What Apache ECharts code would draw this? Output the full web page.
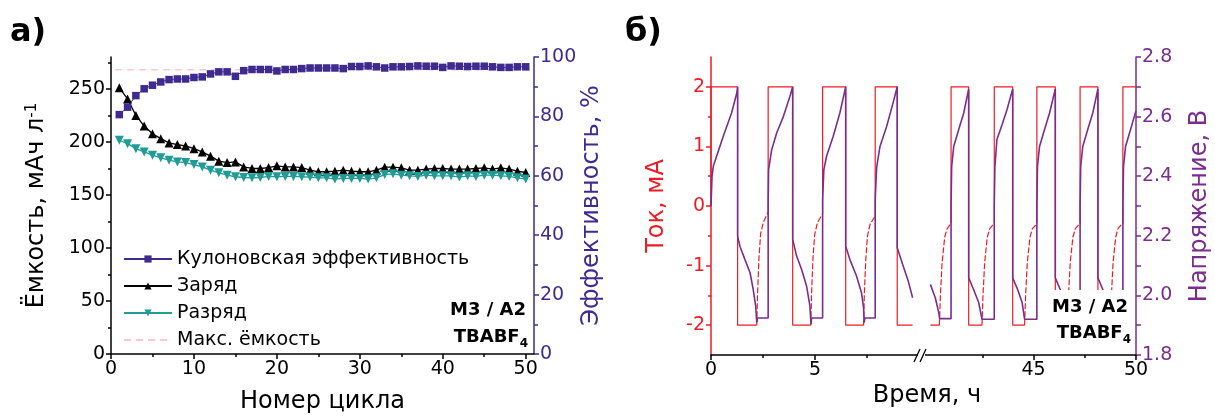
<!DOCTYPE html>
<html>
<head>
<meta charset="utf-8">
<script src="https://cdn.jsdelivr.net/npm/echarts@6/dist/echarts.min.js"></script>
<style>
html,body{margin:0;padding:0;background:#fff;}
#main{width:1215px;height:419px;}
</style>
</head>
<body>
<div id="main"></div>
<script>
// ---- panel a) : cycling ----
var cycles = [1,2,3,4,5,6,7,8,9,10,11,12,13,14,15,16,17,18,19,20,21,22,23,24,25,
              26,27,28,29,30,31,32,33,34,35,36,37,38,39,40,41,42,43,44,45,46,47,48,49,50];
var efficiency = [80.6,83.1,87.0,89.3,90.5,91.6,92.4,92.6,92.6,93.1,93.3,94.3,95.0,95.0,93.5,95.4,95.8,95.8,95.8,95.3,95.8,95.8,96.1,96.3,96.3,
                  96.3,96.3,96.1,96.8,96.8,97.0,96.7,96.3,96.7,96.7,96.8,97.0,96.9,96.9,96.5,97.0,96.9,96.8,96.9,96.9,96.7,96.5,96.5,96.7,96.7];
var charge = [250.9,240.5,224.9,214.9,207.7,203.0,199.0,197.4,196.1,193.6,190.5,186.5,181.8,180.5,181.1,176.4,174.9,174.9,175.8,177.4,176.4,176.4,175.8,173.3,171.8,
              171.8,172.4,173.3,172.4,171.8,171.8,173.3,176.1,176.1,175.5,173.3,173.3,174.3,174.9,174.9,174.3,174.3,174.3,174.9,175.5,174.3,175.5,174.3,172.4,171.1];
var discharge = [201.5,198.3,193.6,190.5,187.4,184.9,182.7,181.1,180.5,178.6,176.4,173.3,170.8,168.6,167.1,166.4,166.1,166.4,167.4,167.1,167.4,167.4,167.1,166.8,166.1,
                 166.1,164.9,165.5,165.5,165.5,164.9,166.1,169.2,169.9,168.6,168.0,167.4,168.6,168.0,168.0,168.0,166.8,168.0,167.4,168.6,168.6,168.0,167.4,166.1,164.9];
var maxCapX = [0.5, 51];
var maxCap = [268, 268];
var capTicks = [0,50,100,150,200,250];
var cycleTicks = [0,10,20,30,40,50];

// ---- panel б) : time, left piece (0 .. 10.2 h) ----
var tCurA = [0,0,1.28,1.28,2.20,null,2.75,2.75,3.93,3.93,4.80,null,5.37,5.37,6.48,6.48,7.34,null,7.90,7.90,8.96,8.96,9.70];
var iCurA = [0,2,2,-2,-2,null,-0.10,2,2,-2,-2,null,-0.13,2,2,-2,-2,null,-0.17,2,2,-2,-2];
var tHoldA = [2.20,2.24,2.31,2.39,2.52,2.75,null,4.80,4.84,4.91,4.99,5.12,5.37,null,7.34,7.38,7.45,7.53,7.66,7.90];
var iHoldA = [-2,-1.47,-0.85,-0.46,-0.27,-0.10,null,-2,-1.45,-0.85,-0.48,-0.28,-0.13,null,-2,-1.45,-0.88,-0.50,-0.30,-0.17];
var tVoltA = [0.0,0.05,0.11,0.27,0.59,0.99,1.24,1.28,
              1.28,1.39,1.63,1.88,2.03,2.15,2.20,2.22,2.24,2.75,
              2.75,2.77,2.92,3.16,3.48,3.80,3.93,
              3.93,4.12,4.36,4.60,4.76,4.81,4.84,5.37,
              5.37,5.43,5.56,5.88,6.20,6.48,
              6.48,6.68,7.00,7.24,7.34,7.37,7.40,7.90,
              7.90,7.97,8.13,8.45,8.76,8.96,
              8.96,9.25,9.49,9.70];
var vVoltA = [2.30,2.40,2.433,2.467,2.534,2.612,2.679,2.70,
              2.199,2.165,2.121,2.076,2.02,1.964,1.909,1.903,1.924,1.924,
              2.30,2.422,2.489,2.545,2.60,2.668,2.70,
              2.188,2.132,2.087,2.031,1.964,1.903,1.924,1.924,
              2.322,2.422,2.467,2.534,2.612,2.70,
              2.165,2.121,2.065,2.009,1.959,1.909,1.924,1.924,
              2.32,2.43,2.50,2.567,2.646,2.70,
              2.16,2.098,2.048,1.992];

// ---- panel б) : time, right piece (39.6 .. 50 h) ----
var tCurB = [39.96,40.40,null,40.97,40.97,41.83,41.83,42.48,null,43.08,43.08,43.98,43.98,44.56,null,
             45.16,45.16,46.06,46.06,46.66,null,47.27,47.27,48.14,48.14,48.75,null,49.36,49.36,50];
var iCurB = [-2,-2,null,-0.29,2,2,-2,-2,null,-0.29,2,2,-2,-2,null,
             -0.29,2,2,-2,-2,null,-0.29,2,2,-2,-2,null,-0.29,2,2];
var tHoldB = [40.40,40.45,40.53,40.66,40.78,40.97,null,42.48,42.53,42.61,42.74,42.86,43.08,null,
              44.56,44.61,44.69,44.82,44.94,45.16,null,46.66,46.71,46.79,46.92,47.04,47.27,null,
              48.75,48.80,48.88,49.01,49.13,49.36];
var iHoldB = [-2,-1.5,-0.96,-0.52,-0.38,-0.29,null,-2,-1.5,-0.95,-0.52,-0.38,-0.29,null,
              -2,-1.5,-0.96,-0.53,-0.38,-0.30,null,-2,-1.45,-0.94,-0.52,-0.38,-0.29,null,
              -2,-1.5,-0.95,-0.52,-0.37,-0.29];
var tVoltB = [39.96,40.20,40.37,40.41,40.97,
              40.97,41.00,41.10,41.34,41.59,41.83,
              41.83,42.07,42.32,42.48,43.08,
              43.08,43.11,43.21,43.46,43.70,43.98,
              43.98,44.22,44.44,44.56,45.16,
              45.16,45.19,45.29,45.53,45.78,46.06,
              46.06,46.30,46.52,46.66,47.27,
              47.27,47.30,47.40,47.64,47.89,48.14,
              48.14,48.38,48.60,48.75,49.36,
              49.36,49.39,49.49,49.73,50.0];
var vVoltB = [2.037,1.992,1.942,1.922,1.922,
              2.30,2.433,2.50,2.556,2.612,2.693,
              2.059,2.02,1.976,1.92,1.92,
              2.30,2.433,2.523,2.573,2.623,2.693,
              2.059,2.02,1.976,1.92,1.92,
              2.30,2.433,2.50,2.556,2.612,2.693,
              2.059,2.02,1.976,1.92,1.92,
              2.30,2.433,2.50,2.556,2.612,2.693,
              2.059,2.02,1.976,1.92,1.92,
              2.30,2.433,2.50,2.556,2.62];

var FONT = 'DejaVu Sans';
var C_EFF = '#3f2b8f';
var C_TEAL = '#1f9c96';
var C_PINK = '#f6c8d8';
var C_RED = '#ec1c24';
var C_VOLT = '#7b2d8e';

function zip(xs, ys){
	return xs.map(function(x, i){ return [x, ys[i]]; });
}

function axisBase(color){
	return {
		axisLine: {show: true, onZero: false, lineStyle: {color: color, width: 1.5}},
		axisTick: {show: true, inside: false, length: 5, lineStyle: {color: color, width: 1.5}},
		minorTick: {show: false},
		axisLabel: {color: color, fontFamily: FONT, fontSize: 19, margin: 6},
		splitLine: {show: false},
		nameTextStyle: {fontFamily: FONT, fontSize: 24, color: color}
	};
}

function mk(base, extra){
	var o = JSON.parse(JSON.stringify(base));
	for (var k in extra) {
		if (extra[k] && typeof extra[k] === 'object' && !Array.isArray(extra[k]) && o[k]) {
			for (var j in extra[k]) o[k][j] = extra[k][j];
		} else {
			o[k] = extra[k];
		}
	}
	return o;
}

var myChart = echarts.init(document.getElementById('main'));

var black = axisBase('#000');

var option = {
	animation: false,
	textStyle: {fontFamily: FONT},
	grid: [
		{left: 111, top: 57, width: 423, height: 298},
		{left: 711, top: 57, width: 212, height: 298},
		{left: 923, top: 57, width: 213, height: 298}
	],
	legend: {
		orient: 'vertical',
		left: 118, top: 244,
		itemWidth: 48, itemHeight: 9, itemGap: 7,
		textStyle: {fontFamily: FONT, fontSize: 19, color: '#000', lineHeight: 20},
		data: ['Кулоновская эффективность', 'Заряд', 'Разряд',
			{name: 'Макс. ёмкость', itemStyle: {opacity: 0}}]
	},
	xAxis: [
		mk(black, {type: 'value', gridIndex: 0, position: 'bottom', min: 0, max: 51, interval: 10,
			axisTick: {customValues: cycleTicks},
			axisLabel: {customValues: cycleTicks},
			minorTick: {show: true, splitNumber: 2, length: 3, lineStyle: {color: '#000', width: 1.5}},
			name: 'Номер цикла', nameLocation: 'middle', nameGap: 36}),
		mk(black, {type: 'value', gridIndex: 1, position: 'bottom', min: 0, max: 10.2,
			axisTick: {customValues: [0, 5]},
			axisLabel: {customValues: [0, 5]}}),
		mk(black, {type: 'value', gridIndex: 2, position: 'bottom', min: 39.6, max: 50,
			axisTick: {customValues: [45, 50]},
			axisLabel: {customValues: [45, 50]}}),
		mk(black, {type: 'value', gridIndex: 1, position: 'bottom', min: 0, max: 10.2,
			axisLine: {show: false},
			axisTick: {customValues: [2.5, 7.5], length: 3},
			axisLabel: {show: false}}),
		mk(black, {type: 'value', gridIndex: 2, position: 'bottom', min: 39.6, max: 50,
			axisLine: {show: false},
			axisTick: {customValues: [42.5, 47.5], length: 3},
			axisLabel: {show: false}})
	],
	yAxis: [
		mk(black, {type: 'value', gridIndex: 0, position: 'left', min: 0, max: 280, interval: 50,
			axisTick: {customValues: capTicks},
			axisLabel: {customValues: capTicks},
			minorTick: {show: true, splitNumber: 2, length: 3, lineStyle: {color: '#000', width: 1.5}},
			name: 'Ёмкость, мАч л{sup|-1}', nameLocation: 'middle', nameGap: 62,
			nameTextStyle: {fontFamily: FONT, fontSize: 24, color: '#000',
				rich: {sup: {fontFamily: FONT, fontSize: 15, verticalAlign: 'top', lineHeight: 16}}}}),
		mk(axisBase(C_EFF), {type: 'value', gridIndex: 0, position: 'right', min: 0, max: 100, interval: 20,
			minorTick: {show: true, splitNumber: 2, length: 4, lineStyle: {color: C_EFF, width: 1.5}},
			name: 'Эффективность, %', nameLocation: 'middle', nameGap: 46}),
		mk(axisBase(C_RED), {type: 'value', gridIndex: 1, position: 'left', min: -2.5, max: 2.5,
			axisTick: {customValues: [-2, -1, 0, 1, 2]},
			axisLabel: {customValues: [-2, -1, 0, 1, 2]},
			name: 'Ток, мА', nameLocation: 'middle', nameGap: 42}),
		{type: 'value', gridIndex: 1, position: 'right', min: 1.8, max: 2.8, show: false},
		{type: 'value', gridIndex: 2, position: 'left', min: -2.5, max: 2.5, show: false},
		mk(axisBase(C_VOLT), {type: 'value', gridIndex: 2, position: 'right', min: 1.8, max: 2.8, interval: 0.2,
			minorTick: {show: true, splitNumber: 2, length: 5, lineStyle: {color: C_VOLT, width: 1.5}},
			axisLabel: {formatter: function(v){ return v.toFixed(1); }},
			name: 'Напряжение, В', nameLocation: 'middle', nameGap: 52}),
		mk(axisBase(C_RED), {type: 'value', gridIndex: 1, position: 'left', min: -2.5, max: 2.5,
			axisLine: {show: false},
			axisTick: {customValues: [-1.5, -0.5, 0.5, 1.5], length: 3},
			axisLabel: {show: false}})
	],
	series: [
		{name: 'Макс. ёмкость', type: 'line', xAxisIndex: 0, yAxisIndex: 0,
			data: zip(maxCapX, maxCap), symbol: 'none',
			lineStyle: {color: C_PINK, width: 1.5, type: [7, 5]}, itemStyle: {color: C_PINK}},
		{name: 'Заряд', type: 'line', xAxisIndex: 0, yAxisIndex: 0,
			data: zip(cycles, charge), symbol: 'triangle', symbolSize: 9,
			lineStyle: {color: '#000', width: 1.3}, itemStyle: {color: '#000'}},
		{name: 'Разряд', type: 'line', xAxisIndex: 0, yAxisIndex: 0,
			data: zip(cycles, discharge), symbol: 'triangle', symbolRotate: 180, symbolSize: 9,
			lineStyle: {color: C_TEAL, width: 1.3}, itemStyle: {color: C_TEAL}},
		{name: 'Кулоновская эффективность', type: 'line', xAxisIndex: 0, yAxisIndex: 1,
			data: zip(cycles, efficiency), symbol: 'rect', symbolSize: 7.5,
			lineStyle: {color: C_EFF, width: 1}, itemStyle: {color: C_EFF}},

		{type: 'line', xAxisIndex: 1, yAxisIndex: 2, data: zip(tCurA, iCurA), symbol: 'none',
			lineStyle: {color: C_RED, width: 1.2}},
		{type: 'line', xAxisIndex: 1, yAxisIndex: 2, data: zip(tHoldA, iHoldA), symbol: 'none',
			lineStyle: {color: C_RED, width: 1.2, type: [6, 2]}},
		{type: 'line', xAxisIndex: 1, yAxisIndex: 3, data: zip(tVoltA, vVoltA), symbol: 'none',
			lineStyle: {color: C_VOLT, width: 1.6}},
		{type: 'line', xAxisIndex: 2, yAxisIndex: 4, data: zip(tCurB, iCurB), symbol: 'none',
			lineStyle: {color: C_RED, width: 1.2}},
		{type: 'line', xAxisIndex: 2, yAxisIndex: 4, data: zip(tHoldB, iHoldB), symbol: 'none',
			lineStyle: {color: C_RED, width: 1.2, type: [6, 2]}},
		{type: 'line', xAxisIndex: 2, yAxisIndex: 5, data: zip(tVoltB, vVoltB), symbol: 'none',
			lineStyle: {color: C_VOLT, width: 1.6}}
	],
	graphic: [
		{type: 'text', x: 10, y: 33, style: {text: 'а)', font: 'bold 32px "DejaVu Sans"', fill: '#000', verticalAlign: 'middle'}},
		{type: 'text', x: 625, y: 33, style: {text: 'б)', font: 'bold 32px "DejaVu Sans"', fill: '#000', verticalAlign: 'middle'}},
		{type: 'text', x: 927, y: 396, style: {text: 'Время, ч', font: '24px "DejaVu Sans"', fill: '#000', align: 'center', verticalAlign: 'middle'}},
		{type: 'text', x: 526, y: 310, style: {text: 'M3 / A2', font: 'bold 18px "DejaVu Sans"', fill: '#000', align: 'right', verticalAlign: 'middle'}},
		{type: 'text', x: 528, y: 337, style: {text: '{b|TBABF}{s|4}', align: 'right', verticalAlign: 'middle',
			rich: {b: {font: 'bold 18px "DejaVu Sans"', fill: '#000', lineHeight: 26, verticalAlign: 'middle'},
			       s: {font: 'bold 12px "DejaVu Sans"', fill: '#000', lineHeight: 13, verticalAlign: 'bottom'}}}},
		{type: 'rect', z: 50, shape: {x: 1044, y: 290, width: 89, height: 63}, style: {fill: '#fff'}},
		{type: 'text', z: 51, x: 1128, y: 307, style: {text: 'M3 / A2', font: 'bold 18px "DejaVu Sans"', fill: '#000', align: 'right', verticalAlign: 'middle'}},
		{type: 'text', z: 51, x: 1131, y: 333, style: {text: '{b|TBABF}{s|4}', align: 'right', verticalAlign: 'middle',
			rich: {b: {font: 'bold 18px "DejaVu Sans"', fill: '#000', lineHeight: 26, verticalAlign: 'middle'},
			       s: {font: 'bold 12px "DejaVu Sans"', fill: '#000', lineHeight: 13, verticalAlign: 'bottom'}}}},
		{type: 'rect', z: 50, shape: {x: 918, y: 352, width: 7, height: 7}, style: {fill: '#fff'}},
		{type: 'line', z: 51, shape: {x1: 914, y1: 362, x2: 920, y2: 349}, style: {stroke: '#000', lineWidth: 1.3}},
		{type: 'line', z: 51, shape: {x1: 920, y1: 362, x2: 926, y2: 349}, style: {stroke: '#000', lineWidth: 1.3}}
	]
};

myChart.setOption(option);
</script>
</body>
</html>
